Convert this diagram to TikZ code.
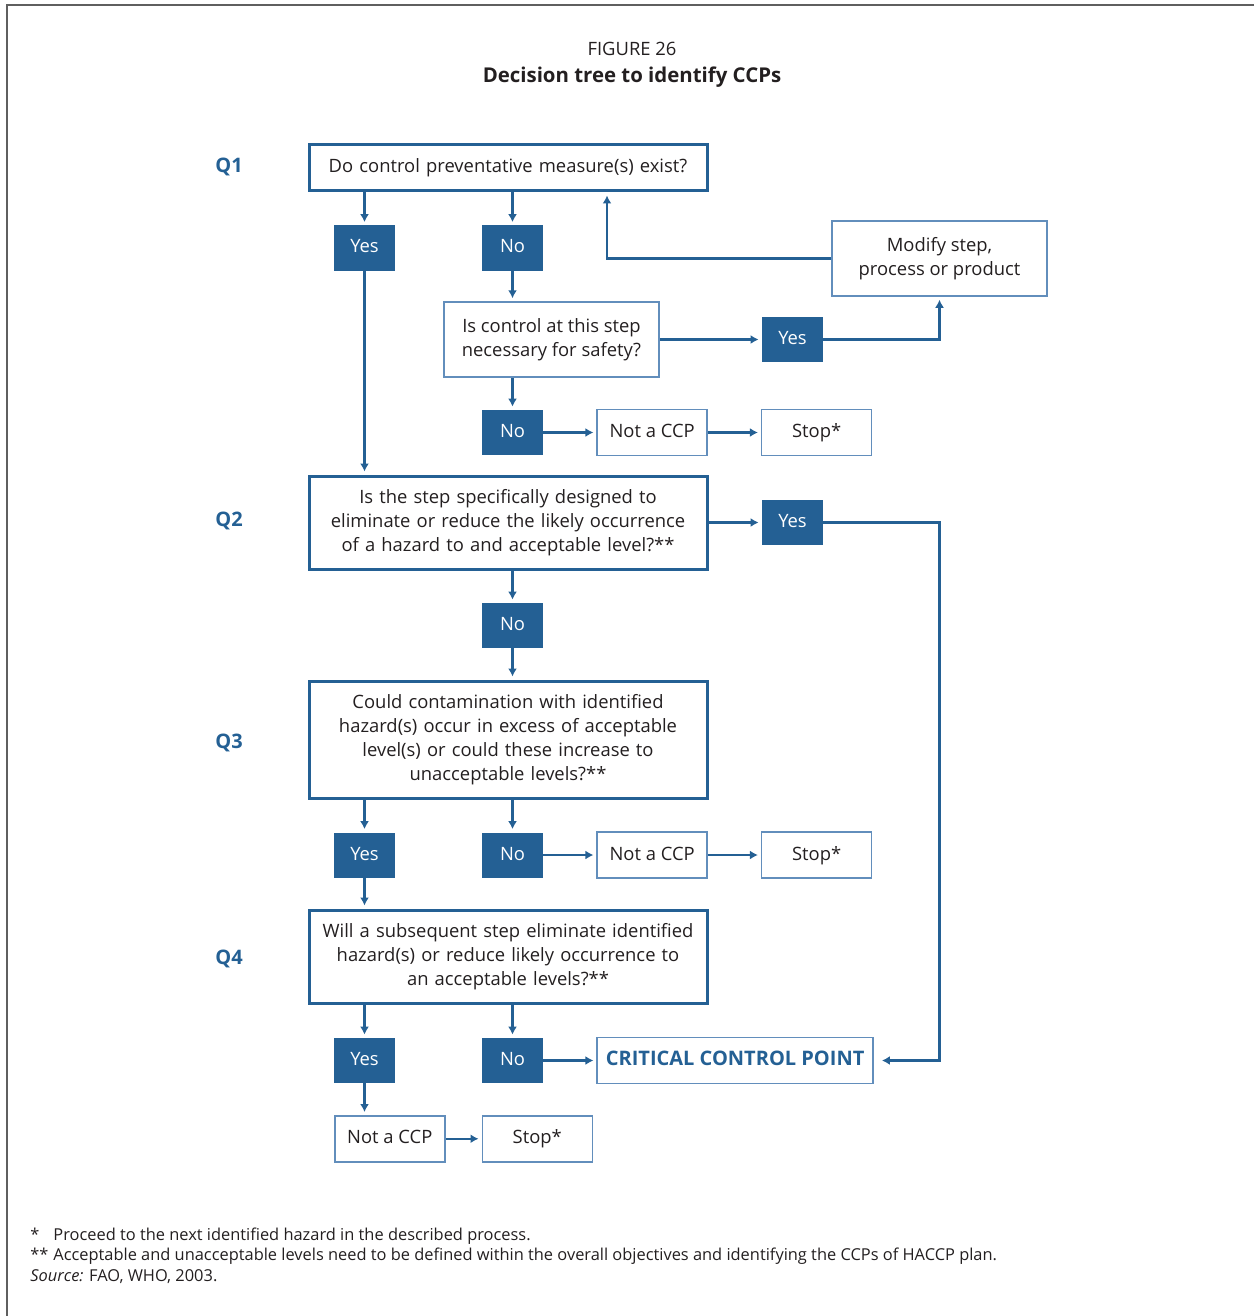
\documentclass[tikz,border=0pt]{standalone}
\usepackage{fontspec}
\setmainfont{Open Sans}
\usepackage{xcolor}
\usepackage{tikz}
\usetikzlibrary{positioning,arrows.meta}
\definecolor{faoBlue}{RGB}{36, 96, 148}
\definecolor{faoLine}{RGB}{98, 142, 188}
\definecolor{faoText}{RGB}{35, 31, 32}
\definecolor{faoFrame}{RGB}{95, 95, 95}

\begin{document}
\begin{tikzpicture}[x=0.5pt, y=-0.5pt, node distance=26.5pt, auto]
    % Define styles
    \tikzstyle{question} = [rectangle, draw=faoBlue, line width=1.5pt, text=faoText, text width=199pt, align=center, inner sep=0pt, font=\fontsize{9.2}{12}\selectfont]
    \tikzstyle{answer} = [rectangle, fill=faoBlue, text=white, minimum width=30.5pt, minimum height=22.5pt, text height=7pt, text depth=2pt, inner sep=0pt, font=\fontsize{9.2}{12}\selectfont]
    \tikzstyle{outcome} = [rectangle, draw=faoLine, line width=0.75pt, text=faoText, minimum width=55pt, minimum height=23pt, text height=7pt, text depth=2pt, inner sep=0pt, font=\fontsize{9.2}{12}\selectfont]
    \tikzstyle{action} = [rectangle, draw=faoLine, line width=0.75pt, text=faoText, minimum width=107.5pt, minimum height=37.5pt, align=center, inner sep=0pt, font=\fontsize{9.2}{12}\selectfont]
    \tikzstyle{qlabel} = [text=faoBlue, font=\fontsize{10}{12}\selectfont\bfseries]
    \tikzstyle{note} = [anchor=west, text=faoText, inner sep=0pt, font=\fontsize{8.2}{10}\selectfont]
    \tikzstyle{arrow} = [draw=faoBlue, line width=1.2pt, -{Latex[length=4pt,width=4.5pt]}, shorten >=1.5pt]

    \useasboundingbox (0,0) rectangle (1254,1316);
    \draw [faoFrame, line width=1pt] (1254,5) -- (7,5) -- (7,1316);

    % Title
    \node [text=faoText, font=\fontsize{9.2}{12}\selectfont] (fig) at (632,49) {FIGURE 26};
    \node [text=faoText, font=\fontsize{10.2}{12}\selectfont\bfseries] (title) at (632,77) {Decision tree to identify CCPs};

    % Questions
    \node [question, minimum height=23pt] (q1) at (508,168) {Do control preventative measure(s) exist?};
    \node [question, minimum height=46.5pt] (q2) at (508,522.5) {Is the step specifically designed to\\eliminate or reduce the likely occurrence\\of a hazard to and acceptable level?**};
    \node [question, minimum height=58.5pt] (q3) at (508,739.5) {Could contamination with identified\\hazard(s) occur in excess of acceptable\\level(s) or could these increase to\\unacceptable levels?**};
    \node [question, minimum height=46.5pt] (q4) at (508,956.5) {Will a subsequent step eliminate identified\\hazard(s) or reduce likely occurrence to\\an acceptable levels?**};
    \node [qlabel] (lq1) at (229,167) {Q1};
    \node [qlabel] (lq2) at (229,521) {Q2};
    \node [qlabel] (lq3) at (229,743) {Q3};
    \node [qlabel] (lq4) at (229,959) {Q4};

    % Q1 branch
    \node [answer] (yes1) at (364.5,248) {Yes};
    \node [answer] (no1) at (512.5,248) {No};
    \node [action] (safety) at (551.5,339.5) {Is control at this step\\necessary for safety?};
    \node [answer] (yesS) at (792.5,339.5) {Yes};
    \node [action] (modify) at (939.5,258.5) {Modify step,\\process or product};
    \node [answer] (no2) at (512.5,432.5) {No};
    \node [outcome, right=of no2] (notccp1) {Not a CCP};
    \node [outcome, right=of notccp1] (stop1) {Stop*};

    % Q2 branch
    \node [answer] (yes2) at (792.5,522.5) {Yes};
    \node [answer] (no3) at (512.5,625.5) {No};

    % Q3 branch
    \node [answer] (yes3) at (364.5,855) {Yes};
    \node [answer] (no4) at (512.5,855) {No};
    \node [outcome, right=of no4] (notccp2) {Not a CCP};
    \node [outcome, right=of notccp2] (stop2) {Stop*};

    % Q4 branch
    \node [answer] (yes4) at (364.5,1060.5) {Yes};
    \node [answer] (no5) at (512.5,1060.5) {No};
    \node [outcome, right=of no5, minimum width=138pt, text=faoBlue, font=\fontsize{10}{12}\selectfont\bfseries] (ccp) {CRITICAL CONTROL POINT};
    \node [outcome, anchor=north west] (notccp3) at (334,1115) {Not a CCP};
    \node [outcome, right=18pt of notccp3] (stop3) {Stop*};

    % Arrows
    \draw [arrow] (q1.south -| yes1.north) -- (yes1.north);
    \draw [arrow] (q1.south -| no1.north) -- (no1.north);
    \draw [arrow] (yes1.south) -- (q2.north -| yes1.south);
    \draw [arrow] (no1.south) -- (safety.north -| no1.south);
    \draw [arrow] (safety.east) -- (yesS.west);
    \draw [arrow] (yesS.east) -| (modify.south);
    \draw [arrow] (modify.west) -| ([xshift=49.5pt]q1.south);
    \draw [arrow] (safety.south -| no2.north) -- (no2.north);
    \draw [arrow] (no2) -- (notccp1);
    \draw [arrow] (notccp1) -- (stop1);
    \draw [arrow] (q2.east |- yes2.west) -- (yes2.west);
    \draw [arrow, shorten >=4pt] (yes2.east) -| (modify.south |- ccp.east) -- (ccp.east);
    \draw [arrow] (q2.south -| no3.north) -- (no3.north);
    \draw [arrow] (no3.south) -- (q3.north -| no3.south);
    \draw [arrow] (q3.south -| yes3.north) -- (yes3.north);
    \draw [arrow] (q3.south -| no4.north) -- (no4.north);
    \draw [arrow] (no4) -- (notccp2);
    \draw [arrow] (notccp2) -- (stop2);
    \draw [arrow] (yes3.south) -- (q4.north -| yes3.south);
    \draw [arrow] (q4.south -| yes4.north) -- (yes4.north);
    \draw [arrow] (q4.south -| no5.north) -- (no5.north);
    \draw [arrow] (no5) -- (ccp);
    \draw [arrow] (yes4.south) -- (notccp3.north -| yes4.south);
    \draw [arrow] (notccp3) -- (stop3);

    % Notes
    \node [note] (note1) at (30,1236) {\makebox[11.5pt][l]{*}Proceed to the next identified hazard in the described process.};
    \node [note] (note2) at (30,1256) {\makebox[11.5pt][l]{**}Acceptable and unacceptable levels need to be defined within the overall objectives and identifying the CCPs of HACCP plan.};
    \node [note] (note3) at (30,1277) {\textit{Source:} FAO, WHO, 2003.};
\end{tikzpicture}
\end{document}
